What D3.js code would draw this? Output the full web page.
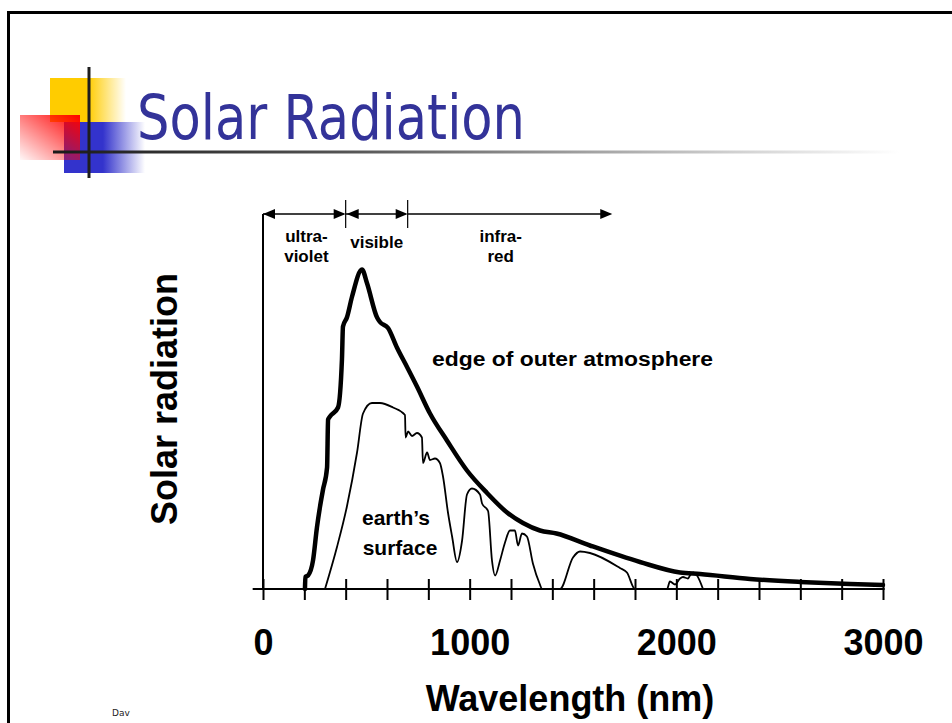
<!DOCTYPE html>
<html>
<head>
<meta charset="utf-8">
<script src="https://cdn.jsdelivr.net/npm/d3@7"></script>
<style>
  html, body { margin: 0; padding: 0; background: #fff; }
  svg { display: block; }
</style>
</head>
<body>
<svg id="chart" width="952" height="723"></svg>
<script>
// ---------------- DATA ----------------
const titleText = "Solar Radiation";
const xAxisTitle = "Wavelength (nm)";
const yAxisTitle = "Solar radiation";
const footerText = "Dav";

// extraterrestrial ("edge of outer atmosphere") spectrum, wavelength nm
const outerWl = [203, 205, 218, 242, 261, 276, 290, 310, 315, 324, 363, 382, 387, 406, 431, 479, 503, 552, 566, 605, 648, 697, 745, 808, 890, 987, 1084, 1181, 1258, 1340, 1420, 1582, 1824, 2018, 2115, 2357, 2598, 2840, 3000];
const outerVal = [0, 0.08, 0.09, 0.19, 0.41, 0.55, 0.66, 0.81, 1.13, 1.15, 1.21, 1.53, 1.75, 1.81, 1.95, 2.13, 2.04, 1.81, 1.78, 1.74, 1.61, 1.48, 1.35, 1.17, 0.99, 0.79, 0.64, 0.51, 0.44, 0.39, 0.37, 0.29, 0.18, 0.11, 0.10, 0.067, 0.047, 0.033, 0.027];

// "earth's surface" spectrum
const innerWl = [300, 358, 406, 455, 484, 527, 566, 629, 687, 690, 702, 721, 745, 769, 774, 794, 808, 832, 856, 871, 895, 915, 939, 963, 987, 1011, 1050, 1060, 1089, 1108, 1123, 1147, 1171, 1195, 1219, 1234, 1253, 1277, 1306, 1340, 1350, 1437, 1500, 1534, 1582, 1727, 1761, 1800, 1955, 1969, 1994, 2018, 2032, 2056, 2066, 2081, 2100, 2129];
const innerVal = [0, 0.28, 0.55, 0.91, 1.17, 1.24, 1.24, 1.21, 1.16, 1.01, 1.05, 1.02, 1.04, 1.01, 0.84, 0.91, 0.86, 0.87, 0.84, 0.75, 0.51, 0.35, 0.18, 0.32, 0.63, 0.67, 0.63, 0.57, 0.52, 0.19, 0.09, 0.19, 0.31, 0.39, 0.39, 0.29, 0.37, 0.35, 0.17, 0.03, 0, 0, 0.21, 0.25, 0.24, 0.14, 0.11, 0, 0, 0.05, 0.03, 0.07, 0.08, 0.07, 0.09, 0.11, 0.09, 0];

// spectral bands
const bandNames = [["ultra-", "violet"], ["visible"], ["infra-", "red"]];
const bandStart = [0, 400, 700];
const bandEnd = [400, 700, 1690];
const bandLabelWl = [210, 550, 1150];
const bandArrowLeft = [true, true, false];

const tickValuesNm = [0, 200, 400, 600, 800, 1000, 1200, 1400, 1600, 1800, 2000, 2200, 2400, 2600, 2800, 3000];
const tickLabelValues = [0, 1000, 2000, 3000];

const curveLabels = ["edge of outer atmosphere"];
const surfaceLabel = ["earth\u2019s", "surface"];

// ---------------- LAYOUT ----------------
const svg = d3.select("#chart");
const defs = svg.append("defs");

const x = d3.scaleLinear().domain([0, 3000]).range([263, 883]);
const y = d3.scaleLinear().domain([0, 2.5]).range([589, 214]);

// slide border
svg.append("line").attr("x1", 8).attr("x2", 952).attr("y1", 12.5).attr("y2", 12.5)
  .attr("stroke", "#000").attr("stroke-width", 3);
svg.append("line").attr("x1", 8.5).attr("x2", 8.5).attr("y1", 11).attr("y2", 723)
  .attr("stroke", "#000").attr("stroke-width", 3);

// ---- logo ----
const gY = defs.append("linearGradient").attr("id", "gYel").attr("x1", 0).attr("x2", 1).attr("y1", 0).attr("y2", 0);
gY.append("stop").attr("offset", "0%").attr("stop-color", "#FFCC00");
gY.append("stop").attr("offset", "50%").attr("stop-color", "#FFCC00");
gY.append("stop").attr("offset", "100%").attr("stop-color", "#FFCC00").attr("stop-opacity", 0);
const gB = defs.append("linearGradient").attr("id", "gBlue").attr("x1", 0).attr("x2", 1).attr("y1", 0).attr("y2", 0);
gB.append("stop").attr("offset", "0%").attr("stop-color", "#3333CC");
gB.append("stop").attr("offset", "48%").attr("stop-color", "#3333CC");
gB.append("stop").attr("offset", "100%").attr("stop-color", "#3333CC").attr("stop-opacity", 0);
const gR = defs.append("linearGradient").attr("id", "gRed").attr("x1", 1).attr("x2", 0).attr("y1", 0).attr("y2", 1);
gR.append("stop").attr("offset", "0%").attr("stop-color", "#FF0000");
gR.append("stop").attr("offset", "100%").attr("stop-color", "#FF0000").attr("stop-opacity", 0.03);
const gL = defs.append("linearGradient").attr("id", "gLine").attr("gradientUnits", "userSpaceOnUse")
  .attr("x1", 53).attr("x2", 900).attr("y1", 0).attr("y2", 0);
gL.append("stop").attr("offset", "0%").attr("stop-color", "#1a1a1a");
gL.append("stop").attr("offset", "35%").attr("stop-color", "#555");
gL.append("stop").attr("offset", "80%").attr("stop-color", "#cfcfcf");
gL.append("stop").attr("offset", "100%").attr("stop-color", "#fff");

svg.append("rect").attr("x", 50).attr("y", 78).attr("width", 76).attr("height", 44).attr("fill", "url(#gYel)");
svg.append("rect").attr("x", 64).attr("y", 122).attr("width", 81).attr("height", 51).attr("fill", "url(#gBlue)");
svg.append("rect").attr("x", 20).attr("y", 115).attr("width", 60).attr("height", 45).attr("fill", "url(#gRed)");
svg.append("line").attr("x1", 53).attr("x2", 900).attr("y1", 152).attr("y2", 152)
  .attr("stroke", "url(#gLine)").attr("stroke-width", 3);
svg.append("line").attr("x1", 89).attr("x2", 89).attr("y1", 67).attr("y2", 178)
  .attr("stroke", "#1e1e1e").attr("stroke-width", 3);

// title
svg.append("text").text(titleText)
  .attr("x", 137).attr("y", 139)
  .attr("font-family", "'DejaVu Sans', Verdana, sans-serif")
  .attr("font-size", 62).attr("fill", "#333399")
  .attr("textLength", 388).attr("lengthAdjust", "spacingAndGlyphs");

// footer (partially hidden)
defs.append("clipPath").attr("id", "footClip").append("rect")
  .attr("x", 100).attr("y", 700).attr("width", 31).attr("height", 23);
svg.append("text").text(footerText)
  .attr("x", 112).attr("y", 716).attr("clip-path", "url(#footClip)")
  .attr("font-family", "'DejaVu Sans', sans-serif").attr("font-size", 9).attr("fill", "#222");

// ---- chart ----
const font = "'Liberation Sans', Arial, Helvetica, sans-serif";

// y axis line
svg.append("line").attr("x1", x(0)).attr("x2", x(0)).attr("y1", y(2.5)).attr("y2", y(0))
  .attr("stroke", "#000").attr("stroke-width", 2);

// x axis
const xAxis = d3.axisBottom(x).tickValues(tickValuesNm)
  .tickFormat(d => tickLabelValues.includes(d) ? d3.format("d")(d) : "")
  .tickSize(11).tickPadding(0);
const gx = svg.append("g").attr("transform", `translate(0,${y(0)})`).call(xAxis);
gx.select(".domain").remove();
gx.selectAll(".tick line").attr("y1", -10).attr("y2", 11).attr("stroke", "#000").attr("stroke-width", 2);
gx.selectAll(".tick text").attr("y", 66).attr("dy", 0)
  .attr("font-family", font).attr("font-weight", "bold").attr("font-size", 36).attr("fill", "#000");
svg.append("line").attr("x1", x(-50)).attr("x2", x(3008)).attr("y1", y(0)).attr("y2", y(0))
  .attr("stroke", "#000").attr("stroke-width", 2);

// curves
const line = d3.line().x(d => x(d[0])).y(d => y(d[1])).curve(d3.curveMonotoneX);
const innerData = innerWl.map((w, i) => [w, innerVal[i]]);
const outerData = outerWl.map((w, i) => [w, outerVal[i]]);
svg.append("path").datum(innerData).attr("d", line)
  .attr("fill", "none").attr("stroke", "#000").attr("stroke-width", 1.8).attr("stroke-linejoin", "round");
svg.append("path").datum(outerData).attr("d", line)
  .attr("fill", "none").attr("stroke", "#000").attr("stroke-width", 4.5)
  .attr("stroke-linejoin", "round").attr("stroke-linecap", "round");

// band arrows
const arrowY = y(2.5);
const ah = 12, aw = 5;
bandNames.forEach((names, i) => {
  const x0 = x(bandStart[i]), x1 = x(bandEnd[i]);
  svg.append("line").attr("x1", x0).attr("x2", x1 - 2).attr("y1", arrowY).attr("y2", arrowY)
    .attr("stroke", "#000").attr("stroke-width", 1.5);
  // right arrowhead
  svg.append("path").attr("d", `M${x1},${arrowY} L${x1 - ah},${arrowY - aw} L${x1 - ah},${arrowY + aw} Z`).attr("fill", "#000");
  if (bandArrowLeft[i]) {
    const lx = x0 + (i === 0 ? 0 : 1);
    svg.append("path").attr("d", `M${lx},${arrowY} L${lx + ah},${arrowY - aw} L${lx + ah},${arrowY + aw} Z`).attr("fill", "#000");
  }
  if (i > 0) {
    svg.append("line").attr("x1", x0).attr("x2", x0).attr("y1", arrowY - 14).attr("y2", arrowY + 14)
      .attr("stroke", "#000").attr("stroke-width", 1.2);
  }
  const cx = x(bandLabelWl[i]);
  names.forEach((n, j) => {
    const baseY = names.length === 1 ? 248 : (j === 0 ? 242 : 262);
    svg.append("text").text(n).attr("x", cx).attr("y", baseY)
      .attr("text-anchor", "middle").attr("font-family", font).attr("font-weight", "bold")
      .attr("font-size", 17);
  });
});

// curve labels
svg.append("text").text(curveLabels[0]).attr("x", 432).attr("y", 366)
  .attr("font-family", font).attr("font-weight", "bold").attr("font-size", 20)
  .attr("textLength", 281).attr("lengthAdjust", "spacingAndGlyphs");
surfaceLabel.forEach((t, j) => {
  svg.append("text").text(t).attr("x", j === 0 ? 396 : 400).attr("y", j === 0 ? 525 : 555)
    .attr("text-anchor", "middle").attr("font-family", font).attr("font-weight", "bold").attr("font-size", 21);
});

// axis titles
svg.append("text").text(xAxisTitle).attr("x", 570).attr("y", 711)
  .attr("text-anchor", "middle").attr("font-family", font).attr("font-weight", "bold").attr("font-size", 36);
svg.append("text").text(yAxisTitle)
  .attr("transform", "translate(177,399) rotate(-90)")
  .attr("text-anchor", "middle").attr("font-family", font).attr("font-weight", "bold").attr("font-size", 36);
</script>
</body>
</html>
